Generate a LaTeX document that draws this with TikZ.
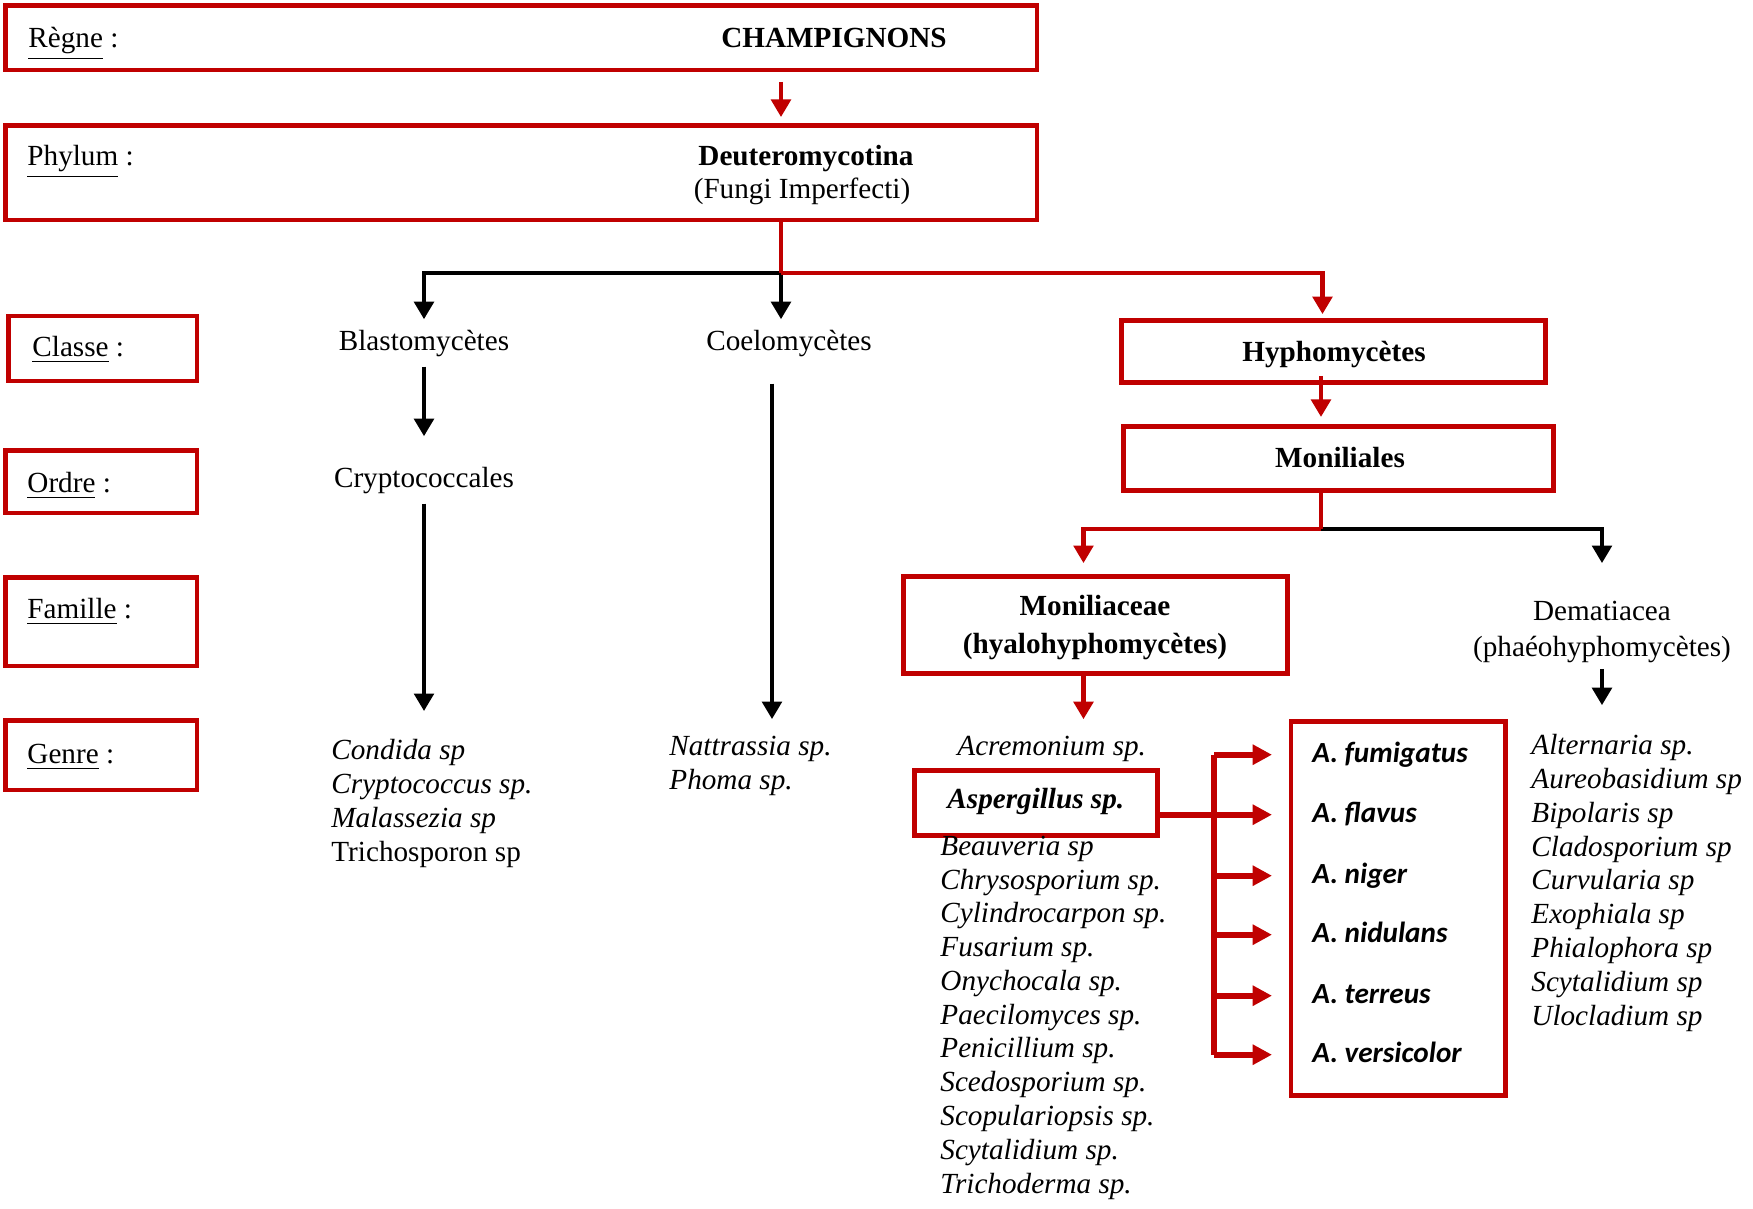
\documentclass[tikz,border=0pt]{standalone}
\usepackage{fontspec}
\setmainfont{Liberation Serif}
\newfontfamily\calfont{Carlito}
\usepackage{tikz}
\usetikzlibrary{arrows.meta}
\usetikzlibrary{fit}
\usepackage{xcolor}
\definecolor{boxred}{RGB}{192,0,0}
\tikzset{
  redbox/.style={draw=boxred, line width=1.4pt, inner sep=0pt},
  redline/.style={draw=boxred, line width=1.3pt},
  redarrow/.style={redline, -{Triangle[length=5pt,width=5.5pt]}},
  blackarrow/.style={line width=1.4pt, -{Triangle[length=5pt,width=5.5pt]}},
  bigarrow/.style={draw=boxred, line width=1.8pt, -{Triangle[length=5.5pt,width=5.5pt]}},
  lst/.style={anchor=base west, align=left, font=\itshape},
  aname/.style={anchor=base west, text height=0.7em, text depth=0.2em, font=\calfont\bfseries\itshape},
}
\begin{document}
\fontsize{8.3}{9.6}\selectfont
\begin{tikzpicture}[x=0.01cm, y=-0.01cm]
\useasboundingbox (0,0) rectangle (1753,1208);
\node [redbox, fit={(5.5,5.5) (1037,70)}] (regne) {};
\node [anchor=base west] (regnelab) at (18,47) {\underline{Règne} :};
\node [anchor=base, font=\bfseries] (champ) at (834,47) {CHAMPIGNONS};
\node [redbox, fit={(5.5,125.5) (1037,220)}] (phylum) {};
\node [anchor=base west] (phylumlab) at (17,165) {\underline{Phylum} :};
\node [anchor=base, font=\bfseries] (deut) at (806,165) {Deuteromycotina};
\node [anchor=base] (fungi) at (802,198) {(Fungi Imperfecti)};
\node [redbox, fit={(8.5,316) (197,381)}] (classe) {};
\node [anchor=base west] (classelab) at (22,356) {\underline{Classe} :};
\node [redbox, fit={(5.5,450.5) (197,513)}] (ordre) {};
\node [anchor=base west] (ordrelab) at (17,492) {\underline{Ordre} :};
\node [redbox, fit={(5.5,577.5) (197,666)}] (famille) {};
\node [anchor=base west] (famillelab) at (17,618) {\underline{Famille} :};
\node [redbox, fit={(5.5,720.5) (197,790)}] (genre) {};
\node [anchor=base west] (genrelab) at (17,763) {\underline{Genre} :};
\node [anchor=base] (blasto) at (424,350) {Blastomycètes};
\node [anchor=base] (coelo) at (789,350) {Coelomycètes};
\node [anchor=base] (crypto) at (424,487) {Cryptococcales};
\node [redbox, fit={(1121.5,320.5) (1545.5,382.5)}] (hypho) {};
\node [anchor=base, font=\bfseries] (hyphotxt) at (1334,361) {Hyphomycètes};
\node [redbox, fit={(1123.5,426.5) (1553.5,490.5)}] (monil) {};
\node [anchor=base, font=\bfseries] (moniltxt) at (1340,467) {Moniliales};
\node [redbox, fit={(903.5,576.5) (1287.5,673.5)}] (monilc) {};
\node [anchor=base, font=\bfseries, align=center] (monilctxt) at (1095,653) {Moniliaceae\\[1.2pt](hyalohyphomycètes)};
\node [anchor=base, align=center] (demat) at (1602,656) {Dematiacea\\[0.6pt](phaéohyphomycètes)};
\node [lst] (genre1) at (321,861) {Condida sp\\Cryptococcus sp.\\Malassezia sp\\\upshape Trichosporon sp};
\node [lst] (genre2) at (659,789) {Nattrassia sp.\\Phoma sp.};
\node [lst] (acrem) at (947,755) {Acremonium sp.};
\node [redbox, fit={(914.5,770.5) (1157.5,835.5)}] (asperg) {};
\node [anchor=base west, font=\bfseries\itshape] (aspergtxt) at (937,808) {Aspergillus sp.};
\node [lst] (genre3) at (930,1193) {Beauveria sp\\Chrysosporium sp.\\Cylindrocarpon sp.\\Fusarium sp.\\Onychocala sp.\\Paecilomyces sp.\\Penicillium sp.\\Scedosporium sp.\\Scopulariopsis sp.\\Scytalidium sp.\\Trichoderma sp.};
\node [redbox, fit={(1291,721.5) (1505.5,1095.5)}] (abox) {};
\node [aname] (a1) at (1302,762) {A. fumigatus};
\node [aname] (a2) at (1302,822) {A. flavus};
\node [aname] (a3) at (1302,883) {A. niger};
\node [aname] (a4) at (1302,942) {A. nidulans};
\node [aname] (a5) at (1302,1003) {A. terreus};
\node [aname] (a6) at (1302,1062) {A. versicolor};
\node [lst] (genre4) at (1521,1025) {Alternaria sp.\\Aureobasidium sp\\Bipolaris sp\\Cladosporium sp\\Curvularia sp\\Exophiala sp\\Phialophora sp\\Scytalidium sp\\Ulocladium sp};
\coordinate (split) at (781,273);
\coordinate (msplit) at (1321,529);
\coordinate (brx) at (1214,0);
\draw [redarrow, shorten <=2.7pt, shorten >=1.7pt] (regne.south -| split) -- (phylum.north -| split);
\draw [blackarrow] (split) -| (blasto);
\draw [blackarrow] (split) -- (split |- coelo.north);
\draw [redline] (phylum.south -| split) -- (split);
\draw [redarrow, shorten >=1.1pt] (split) -| ([xshift=-0.11cm]hypho.north);
\draw [blackarrow, shorten >=5.7pt] (blasto) -- (blasto |- crypto.north);
\draw [blackarrow, shorten >=5.1pt] (crypto) -- (crypto |- genre1.north);
\draw [blackarrow, shorten <=4.8pt, shorten >=1.8pt] ([xshift=-0.17cm]coelo.south) -- ([xshift=-0.17cm]coelo.south |- genre2.north);
\draw [redarrow, shorten <=-2.6pt, shorten >=2pt] (hypho.south -| msplit) -- (monil.north -| msplit);
\draw [line width=1.4pt, -{Triangle[length=5pt,width=5.5pt]}, shorten >=3.1pt] (msplit) -| (demat.north |- monilc.north);
\draw [redline] (monil.south -| msplit) -- (msplit);
\draw [redarrow, shorten >=3.1pt] (msplit) -| ([xshift=-0.12cm]monilc.north);
\draw [redarrow, shorten >=1.7pt] ([xshift=-0.12cm]monilc.south) -- ([xshift=-0.12cm]monilc.south |- acrem.north);
\draw [blackarrow, shorten <=-1.1pt, shorten >=5.4pt] (demat.south) -- (demat.south |- genre4.north);
\draw [redline, line width=1.5pt] (a1.west -| brx) -- (a6.west -| brx);
\draw [redline, line width=1.8pt] (asperg.east |- a2.west) -- (a2.west -| brx);
\foreach \k in {1,...,6} \draw [bigarrow, shorten >=4.7pt] (a\k.west -| brx) -- (a\k.west -| abox.west);
\end{tikzpicture}
\end{document}
